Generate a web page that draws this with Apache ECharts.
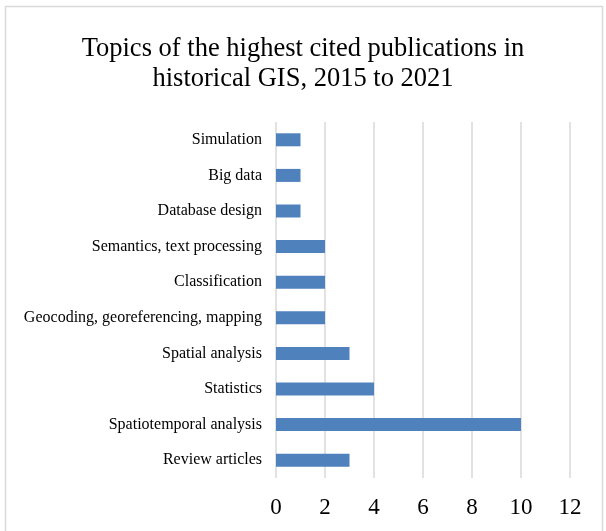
<!DOCTYPE html>
<html><head><meta charset="utf-8">
<script src="https://cdn.jsdelivr.net/npm/echarts@6/dist/echarts.min.js"></script>
<style>html,body{margin:0;padding:0;background:#fff}#c{width:606px;height:531px}</style>
</head><body><div id="c"></div>
<script>
var categories = ["Review articles","Spatiotemporal analysis","Statistics","Spatial analysis","Geocoding, georeferencing, mapping","Classification","Semantics, text processing","Database design","Big data","Simulation"];
var values = [3,10,4,3,2,2,2,1,1,1];
var titleText = "Topics of the highest cited publications in\nhistorical GIS, 2015 to 2021";
var FONT = "'Liberation Serif','Times New Roman',serif";
var chart = echarts.init(document.getElementById('c'), null, {renderer:'canvas'});
chart.setOption({
  backgroundColor:'#fff',
  animation:false,
  title:{text:titleText,left:'center',top:29,textStyle:{fontFamily:FONT,fontSize:26.5,fontWeight:'normal',color:'#000',lineHeight:30}},
  graphic:[{type:'rect',shape:{x:5.5,y:6.5,width:597,height:540},style:{fill:null,stroke:'#d9d9d9',lineWidth:1.5},silent:true}],
  grid:{left:276,right:36,top:122,bottom:53,containLabel:false},
  xAxis:{type:'value',min:0,max:12,interval:2,
    axisLine:{show:false},axisTick:{show:false},
    axisLabel:{fontFamily:FONT,fontSize:23,color:'#000',margin:18},
    splitLine:{show:true,lineStyle:{color:'#d9d9d9',width:1.5}}},
  yAxis:{type:'category',data:categories,
    axisLine:{show:false},axisTick:{show:false},
    axisLabel:{fontFamily:FONT,fontSize:16,color:'#000',margin:14}},
  series:[{type:'bar',data:values,barWidth:13,itemStyle:{color:'#4F81BD'}}]
});
</script></body></html>
